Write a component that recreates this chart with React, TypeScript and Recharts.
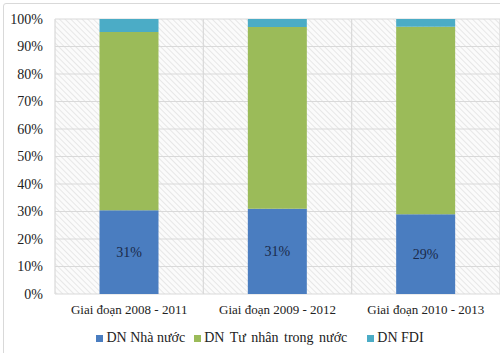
import React from "react";
import { BarChart, Bar, XAxis, YAxis, CartesianGrid, Legend, LabelList } from "recharts";

const categories = ["Giai đoạn 2008 - 2011", "Giai đoạn 2009 - 2012", "Giai đoạn 2010 - 2013"];
const stateShare = [30.5, 31, 29];
const privateShare = [64.8, 66.1, 68.2];
const fdiShare = [4.7, 2.9, 2.8];
const yTicks = [0, 10, 20, 30, 40, 50, 60, 70, 80, 90, 100];

const seriesNames = ["DN Nhà nước", "DN Tư nhân trong nước", "DN FDI"];
const colors = ["#4A7DC0", "#9BBB59", "#4BACC6"];

const data = categories.map((c, i) => ({
  name: c,
  state: stateShare[i],
  priv: privateShare[i],
  fdi: fdiShare[i],
}));

const FONT = "'Liberation Serif'";

const LegendContent = () => (
  <div style={{ display: "flex", justifyContent: "center", fontFamily: FONT, fontSize: 14, color: "#222", lineHeight: "20px", paddingLeft: 20 }}>
    {seriesNames.map((n, i) => (
      <div key={n} style={{ display: "flex", alignItems: "center", marginRight: i === 0 ? 9 : i === 1 ? 20 : 0 }}>
        <span style={{ display: "inline-block", width: 7, height: 7, background: colors[i], marginRight: 3 }} />
        <span style={{ wordSpacing: i === 1 ? 2 : 0 }}>{n}</span>
      </div>
    ))}
  </div>
);

const css = `.chart-root text, .chart-root div, .chart-root span { font-family: 'Liberation Serif', serif !important; }`;

export default function App() {
  return (
    <div className="chart-root" style={{ position: "absolute", left: 0, top: 0, width: 500, height: 353, overflow: "hidden", background: "#fff", fontFamily: FONT }}>
      <style>{css}</style>
      <div style={{ position: "absolute", left: 3, top: 3, width: 520, height: 380, border: "1px solid #d9d9d9", borderRadius: 3 }} />
      <div style={{ position: "absolute", left: 0, top: 0 }}>
        <BarChart width={500} height={353} data={data} margin={{ top: 19, right: 0, left: 0, bottom: 5 }} barCategoryGap="30%" style={{ fontFamily: FONT }}>
          <defs>
            <pattern id="hatch" width="4" height="4" patternUnits="userSpaceOnUse" patternTransform="rotate(-45)">
              <rect width="4" height="4" fill="#fbfbfb" />
              <line x1="0" y1="0" x2="0" y2="4" stroke="#d4d4d4" strokeWidth="1" />
            </pattern>
          </defs>
          <CartesianGrid
            fill="url(#hatch)"
            stroke="#d9d9d9"
            strokeWidth={1.2}
            verticalCoordinatesGenerator={({ offset }: any) =>
              [0, 1, 2, 3].map((k) => offset.left + (offset.width * k) / 3)
            }
          />
          <XAxis
            dataKey="name"
            height={34}
            axisLine={false}
            tickLine={false}
            tickMargin={5}
            tick={{ fontFamily: FONT, fontSize: 13, fill: "#222" }}
          />
          <YAxis
            width={55}
            domain={[0, 100]}
            ticks={yTicks}
            axisLine={false}
            tickLine={false}
            tickMargin={6}
            tickFormatter={(v: number) => `${v}%`}
            tick={{ fontFamily: FONT, fontSize: 14, fill: "#222" }}
          />
          <Legend verticalAlign="bottom" height={20} content={<LegendContent />} />
          <Bar dataKey="state" stackId="a" fill={colors[0]} isAnimationActive={false} name={seriesNames[0]}>
            <LabelList
              dataKey="state"
              position="center"
              formatter={(v: number) => `${Math.round(v)}%`}
              style={{ fontFamily: FONT, fontSize: 14, fill: "#1a2a4a" }}
            />
          </Bar>
          <Bar dataKey="priv" stackId="a" fill={colors[1]} isAnimationActive={false} name={seriesNames[1]} />
          <Bar dataKey="fdi" stackId="a" fill={colors[2]} isAnimationActive={false} name={seriesNames[2]} />
        </BarChart>
      </div>
    </div>
  );
}
